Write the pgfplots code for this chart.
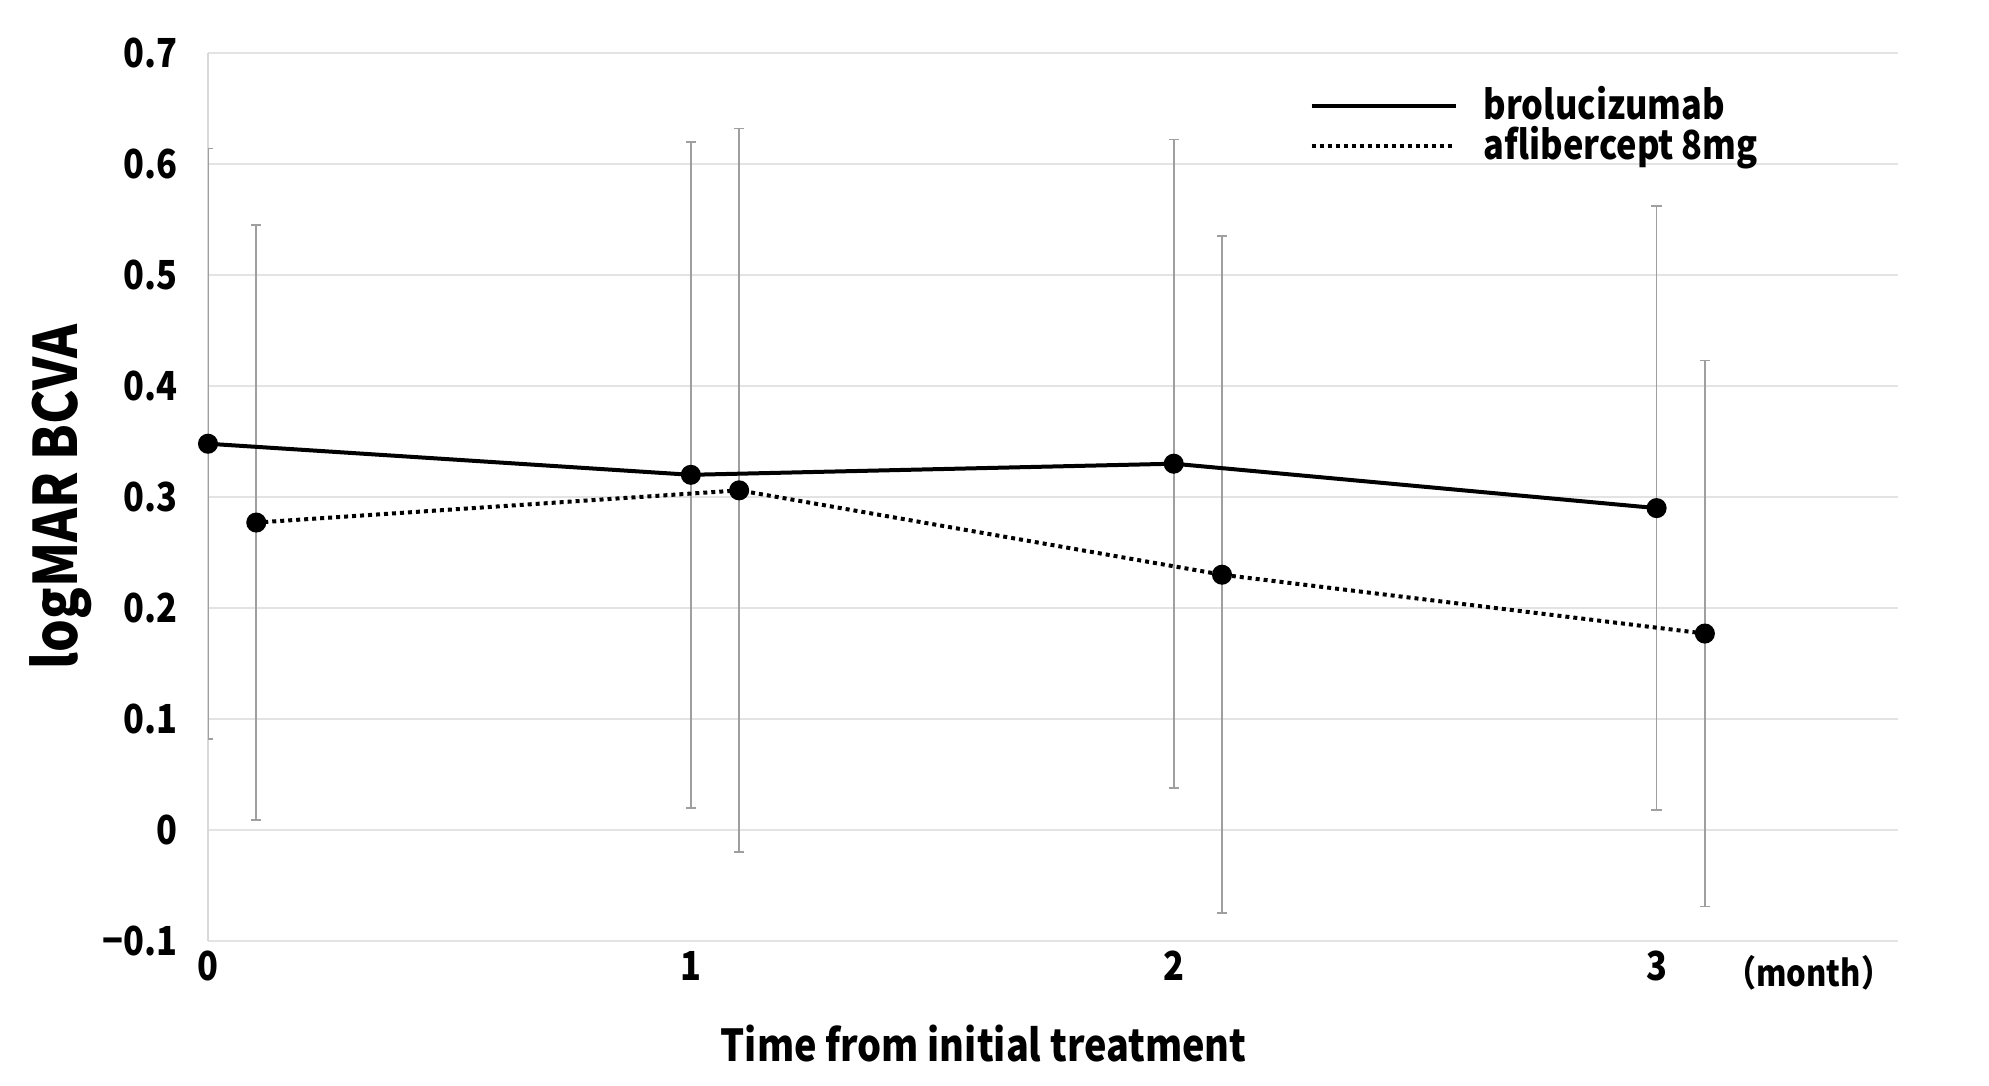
\documentclass[border=0pt]{standalone}
\usepackage{fontspec}
\setmainfont{Noto Sans CJK JP}[FakeStretch=0.86]
\usepackage{pgfplots}
\usepackage{pgfplotstable}
\pgfplotsset{compat=1.18}

% mean and SD, logMAR BCVA
\pgfplotstableread{
x y err
0 0.348 0.266
1 0.320 0.300
2 0.330 0.292
3 0.290 0.272
}\brolu
\pgfplotstableread{
x y err
0.1 0.277 0.268
1.1 0.306 0.326
2.1 0.230 0.305
3.1 0.177 0.246
}\afli

\begin{document}
\begin{tikzpicture}
\useasboundingbox (0,0) rectangle (497.25pt,271.25pt);
\begin{axis}[
  at={(52pt,36pt)}, anchor=south west,
  scale only axis, width=422.5pt, height=222pt,
  xmin=0, xmax=3.5, ymin=-0.1, ymax=0.7,
  xtick={0,1,2,3}, ytick={-0.1,0,...,0.7},
  yticklabels={−0.1,0,0.1,0.2,0.3,0.4,0.5,0.6,0.7},
  axis x line*=bottom, axis y line*=left,
  x axis line style={draw=none},
  y axis line style={draw=gray!30, line width=0.6pt},
  major tick length=0pt,
  clip mode=individual,
  ymajorgrids, grid style={gray!22, line width=0.6pt},
  /pgf/number format/assume math mode=true,
  tick label style={font=\bfseries\fontsize{10}{11}\selectfont},
  yticklabel style={xshift=-4pt},
  xticklabel style={yshift=1pt},
  xlabel={Time from initial treatment},
  xlabel style={font=\bfseries\fontsize{11}{12}\selectfont, at={(axis description cs:0.459,-0.115)}, anchor=center},
  ylabel={logMAR BCVA},
  ylabel style={font=\bfseries\fontsize{15}{16}\selectfont, at={(axis description cs:-0.087,0.5)}, anchor=center},
  legend image code/.code={\draw[#1] (0pt,0pt) -- (36pt,0pt);},
  legend style={draw=none, fill=none, at={(axis cs:2.255,0.683)}, anchor=north west,
    font=\bfseries\fontsize{10}{11}\selectfont, row sep=-3pt, column sep=5pt,
    nodes={inner sep=1.5pt}},
  legend cell align=left,
]
\addplot[draw=none, mark=none, forget plot,
  error bars/.cd, y dir=both, y explicit,
  error bar style={draw=gray!75, line width=0.4pt},
  error mark options={draw=gray!75, mark size=1.3pt, line width=0.4pt, rotate=90}]
  table[x=x, y=y, y error=err]{\brolu};
\addplot[draw=none, mark=none, forget plot,
  error bars/.cd, y dir=both, y explicit,
  error bar style={draw=gray!75, line width=0.4pt},
  error mark options={draw=gray!75, mark size=1.3pt, line width=0.4pt, rotate=90}]
  table[x=x, y=y, y error=err]{\afli};
\addplot[black, line width=1pt, mark=*, mark size=2pt, forget plot] table[x=x, y=y]{\brolu};
\addplot[black, line width=1pt, dash pattern=on 1pt off 1pt, mark=*, mark size=2pt,
  mark options={solid}, forget plot] table[x=x, y=y]{\afli};
\addlegendimage{black, line width=1pt}
\addlegendentry{brolucizumab}
\addlegendimage{black, line width=1pt, dash pattern=on 1pt off 1pt}
\addlegendentry{aflibercept 8mg}
\node[font=\bfseries\fontsize{9}{10}\selectfont, anchor=north, inner sep=0pt] at (axis cs:3.315,-0.1) [yshift=-3.3pt] {（month）};
\end{axis}
\end{tikzpicture}
\end{document}
